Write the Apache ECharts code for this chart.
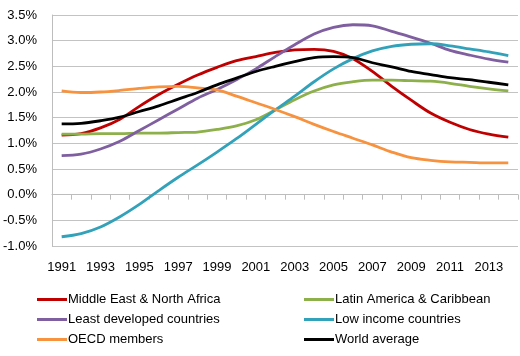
<!DOCTYPE html>
<html>
<head>
<meta charset="utf-8">
<script src="https://cdn.jsdelivr.net/npm/echarts@6/dist/echarts.min.js"></script>
<style>html,body{margin:0;padding:0;background:#fff}#c{width:520px;height:356px}</style>
</head>
<body>
<div id="c"></div>
<script>
var years = ['1991','1992','1993','1994','1995','1996','1997','1998','1999','2000','2001','2002','2003','2004','2005','2006','2007','2008','2009','2010','2011','2012','2013','2014'];
var yTicks = [-1.0, -0.5, 0.0, 0.5, 1.0, 1.5, 2.0, 2.5, 3.0, 3.5];
var seriesNames = ['Middle East & North Africa','Latin America & Caribbean','Least developed countries','Low income countries','OECD members','World average'];
var mena = [1.16,1.19,1.30,1.47,1.72,1.95,2.15,2.33,2.48,2.61,2.69,2.77,2.82,2.83,2.79,2.65,2.40,2.11,1.84,1.59,1.41,1.27,1.18,1.12];
var latam = [1.18,1.18,1.19,1.19,1.20,1.20,1.21,1.22,1.27,1.34,1.46,1.65,1.85,2.02,2.14,2.20,2.23,2.23,2.22,2.21,2.17,2.11,2.06,2.02];
var ldc = [0.76,0.79,0.89,1.04,1.25,1.46,1.67,1.88,2.05,2.24,2.45,2.69,2.92,3.13,3.26,3.31,3.29,3.18,3.07,2.95,2.81,2.72,2.64,2.58];
var lowInc = [-0.82,-0.76,-0.63,-0.43,-0.19,0.08,0.34,0.58,0.83,1.09,1.37,1.65,1.92,2.20,2.45,2.65,2.80,2.89,2.93,2.94,2.90,2.84,2.78,2.71];
var oecd = [2.02,1.99,2.00,2.03,2.07,2.10,2.11,2.08,2.04,1.92,1.79,1.66,1.52,1.37,1.23,1.10,0.97,0.83,0.72,0.67,0.64,0.63,0.62,0.62];
var world = [1.38,1.39,1.44,1.51,1.62,1.73,1.86,1.99,2.14,2.27,2.40,2.50,2.59,2.67,2.69,2.67,2.57,2.49,2.40,2.34,2.28,2.24,2.19,2.14];

var colors = ['#C00000','#8DB04A','#7F5FA0','#31A2BA','#F7923F','#000000'];
var allData = [mena, latam, ldc, lowInc, oecd, world];
var font = 'Liberation Sans, Arial, sans-serif';

var series = allData.map(function(d, i){
  return {
    name: seriesNames[i], type: 'line', data: d, xAxisIndex: 0,
    smooth: 0.35, symbol: 'none', lineStyle: {width: 2.8, color: colors[i]},
    itemStyle: {color: colors[i]}, z: 3 + (i === 5 ? 1 : 0)
  };
});

var legendPos = [
  {left: 37, top: 293}, {left: 304, top: 293},
  {left: 37, top: 313}, {left: 304, top: 313},
  {left: 37, top: 333}, {left: 304, top: 333}
];
var legends = [0,1,2,3,4,5].map(function(si, k){
  return {
    data: [seriesNames[si]], left: legendPos[k].left, top: legendPos[k].top,
    icon: 'rect', itemWidth: 30, itemHeight: 3, itemGap: 0, padding: 0,
    textStyle: {fontFamily: font, fontSize: 13, color: '#000', padding: [0,0,0,-4]},
    selectedMode: false
  };
});

var chart = echarts.init(document.getElementById('c'), null, {renderer: 'canvas'});
chart.setOption({
  animation: false,
  backgroundColor: '#fff',
  grid: {left: 45, right: 2, top: 15, bottom: 110, containLabel: false},
  legend: legends,
  xAxis: [{
    type: 'category', data: years, boundaryGap: true, position: 'bottom',
    axisLine: {show: true, onZero: true, lineStyle: {color: '#BDBDBD', width: 1}},
    axisTick: {show: true, interval: 0, length: 5, inside: false, lineStyle: {color: '#BDBDBD'}},
    axisLabel: {show: false},
    splitLine: {show: false}
  }, {
    type: 'category', data: years, boundaryGap: true, position: 'bottom',
    axisLine: {show: false, onZero: false}, axisTick: {show: false},
    axisLabel: {show: true, interval: 1, margin: 15, fontFamily: font, fontSize: 13, color: '#000'},
    splitLine: {show: false}
  }],
  yAxis: {
    type: 'value', min: -1, max: 3.5, interval: 0.5,
    axisLine: {show: true, lineStyle: {color: '#BDBDBD'}},
    axisTick: {show: false},
    axisLabel: {margin: 15, fontFamily: font, fontSize: 13, color: '#000',
      formatter: function(v){ return v.toFixed(1) + '%'; }},
    splitLine: {show: true, lineStyle: {color: '#C3C3C3', width: 1}}
  },
  series: series
});
</script>
</body>
</html>
